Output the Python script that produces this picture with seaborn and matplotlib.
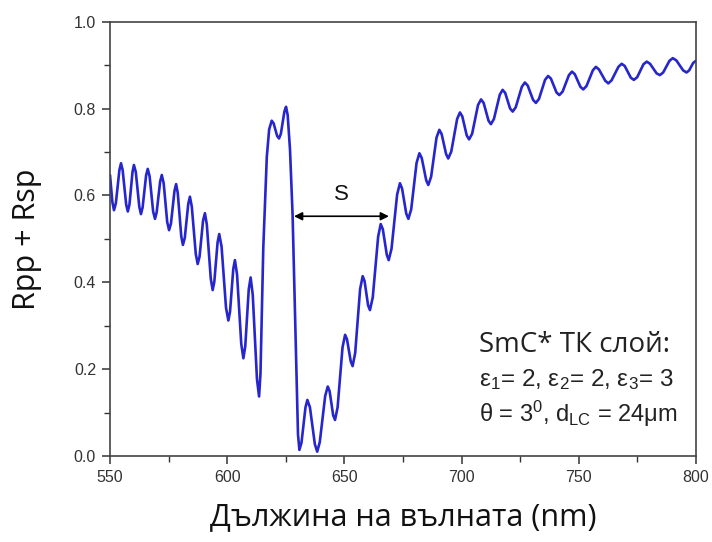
import matplotlib
matplotlib.use("Agg")
import matplotlib.pyplot as plt
from matplotlib.ticker import MultipleLocator
import seaborn as sns
import pandas as pd

# Curve: left fringes (550-613.6 nm)
wl_left = [550.0, 551.0, 551.7, 552.5, 554.0, 554.7, 555.4, 556.9, 557.6, 558.3,
           559.6, 560.2, 561.0, 562.5, 563.2, 563.9, 565.4, 566.1, 566.9, 568.4,
           569.2, 569.9, 571.4, 572.1, 572.9, 574.4, 575.2, 576.0, 577.5, 578.2,
           578.9, 580.4, 581.1, 581.9, 583.4, 584.1, 584.9, 586.6, 587.4, 588.2,
           589.7, 590.5, 591.3, 593.0, 593.8, 594.5, 595.9, 596.6, 597.6, 599.5,
           600.5, 601.2, 602.6, 603.3, 604.2, 606.0, 606.9, 607.7, 609.2, 610.0,
           610.9, 612.7, 613.6]
r_left = [0.647, 0.585, 0.566, 0.582, 0.658, 0.674, 0.658, 0.579, 0.563, 0.579,
          0.654, 0.670, 0.654, 0.574, 0.557, 0.572, 0.646, 0.661, 0.644, 0.563,
          0.546, 0.561, 0.632, 0.647, 0.628, 0.539, 0.520, 0.535, 0.610, 0.626,
          0.606, 0.506, 0.486, 0.502, 0.581, 0.597, 0.574, 0.465, 0.442, 0.459,
          0.542, 0.559, 0.533, 0.408, 0.382, 0.401, 0.492, 0.511, 0.482, 0.341,
          0.312, 0.332, 0.431, 0.451, 0.418, 0.258, 0.225, 0.252, 0.384, 0.411,
          0.371, 0.177, 0.137]

# Central reflection band (614-630 nm)
wl_band = [614.2, 615.4, 616.9, 617.9, 619.0, 619.8, 621.3, 622.1, 622.9, 624.4,
           625.1, 625.8, 626.8, 627.9, 629.6, 630.2]
r_band = [0.190, 0.480, 0.689, 0.752, 0.772, 0.766, 0.737, 0.731, 0.742, 0.793,
          0.804, 0.785, 0.705, 0.555, 0.175, 0.050]

# Right fringes (630.8-800 nm)
wl_right = [630.8, 631.7, 633.4, 634.2, 635.3, 637.4, 638.4, 639.5, 641.8, 642.9,
            643.7, 645.2, 646.0, 647.1, 649.2, 650.3, 651.1, 652.7, 653.5, 654.6,
            656.7, 657.8, 658.6, 660.1, 660.9, 662.1, 664.4, 665.5, 666.4, 668.1,
            668.9, 670.1, 672.5, 673.7, 674.6, 676.4, 677.3, 678.5, 680.8, 682.0,
            683.0, 684.9, 685.8, 687.0, 689.3, 690.5, 691.5, 693.4, 694.3, 695.6,
            698.1, 699.3, 700.3, 702.2, 703.2, 704.5, 707.0, 708.3, 709.4, 711.5,
            712.5, 713.8, 716.3, 717.5, 718.6, 720.7, 721.8, 723.1, 725.7, 727.0,
            728.2, 730.5, 731.7, 733.0, 735.6, 736.9, 738.1, 740.5, 741.7, 743.1,
            745.8, 747.1, 748.3, 750.7, 751.9, 753.3, 756.0, 757.3, 758.6, 761.3,
            762.6, 764.0, 766.9, 768.3, 769.6, 772.2, 773.5, 774.9, 777.6, 779.0,
            780.4, 783.2, 784.6, 786.0, 788.7, 790.1, 791.6, 794.5, 796.0, 797.1,
            798.8, 800.0]
r_right = [0.014, 0.031, 0.112, 0.129, 0.112, 0.027, 0.010, 0.032, 0.138, 0.160,
           0.149, 0.094, 0.083, 0.112, 0.250, 0.279, 0.269, 0.218, 0.207, 0.237,
           0.384, 0.414, 0.403, 0.347, 0.336, 0.365, 0.505, 0.534, 0.522, 0.463,
           0.451, 0.477, 0.602, 0.628, 0.616, 0.558, 0.546, 0.568, 0.675, 0.697,
           0.686, 0.635, 0.624, 0.643, 0.733, 0.751, 0.741, 0.695, 0.685, 0.701,
           0.776, 0.791, 0.782, 0.738, 0.729, 0.742, 0.808, 0.821, 0.813, 0.772,
           0.764, 0.776, 0.832, 0.843, 0.836, 0.800, 0.793, 0.803, 0.850, 0.860,
           0.853, 0.820, 0.813, 0.822, 0.866, 0.875, 0.869, 0.837, 0.831, 0.839,
           0.877, 0.885, 0.879, 0.850, 0.844, 0.852, 0.888, 0.896, 0.890, 0.864,
           0.858, 0.865, 0.896, 0.903, 0.898, 0.871, 0.866, 0.872, 0.902, 0.908,
           0.903, 0.881, 0.877, 0.883, 0.910, 0.916, 0.911, 0.888, 0.883, 0.888,
           0.905, 0.910]

x_ticks = [550, 600, 650, 700, 750, 800]
y_ticks = [0.0, 0.2, 0.4, 0.6, 0.8, 1.0]
x_label = "Дължина на вълната (nm)"
y_label = "Rpp + Rsp"
arrow_start = 628.5
arrow_end = 669.0
arrow_level = 0.552
arrow_text = "S"

df = pd.DataFrame({"wl": wl_left + wl_band + wl_right,
                   "R": r_left + r_band + r_right})

sns.set_style("ticks")
plt.rcParams["font.family"] = ["Liberation Sans", "DejaVu Sans"]
plt.rcParams["mathtext.fontset"] = "custom"
plt.rcParams["mathtext.rm"] = "Liberation Sans"
plt.rcParams["mathtext.it"] = "Liberation Sans:italic"
plt.rcParams["mathtext.default"] = "regular"

fig = plt.figure(figsize=(7.12, 5.42), dpi=100)
ax = fig.add_axes([0.1545, 0.1587, 0.823, 0.8013])

sns.lineplot(data=df, x="wl", y="R", ax=ax, color="#2626cc", linewidth=1.9,
             sort=False, estimator=None)
for ln in ax.get_lines():
    ln.set_solid_joinstyle("round")

ax.set_xlim(550, 800)
ax.set_ylim(0, 1.0)
ax.set_xticks(x_ticks)
ax.set_xticklabels([str(t) for t in x_ticks])
ax.set_yticks(y_ticks)
ax.set_yticklabels([f"{t:.1f}" for t in y_ticks])
ax.xaxis.set_minor_locator(MultipleLocator(25))
ax.yaxis.set_minor_locator(MultipleLocator(0.1))
ax.tick_params(which="major", direction="out", length=6, width=1.1,
               color="#333333", labelsize=11.5, labelcolor="#333333", pad=4)
ax.tick_params(which="minor", direction="out", length=4, width=1.0, color="#333333")
for s in ax.spines.values():
    s.set_visible(True)
    s.set_linewidth(1.2)
    s.set_color("#444444")

ax.set_xlabel(x_label, fontsize=22, family=["Open Sans", "DejaVu Sans"],
              color="#111111")
ax.set_ylabel(y_label, fontsize=22, family=["Open Sans", "DejaVu Sans"],
              color="#111111")
ax.xaxis.set_label_coords(0.5, -0.106)
ax.yaxis.set_label_coords(-0.116, 0.5)

ax.annotate("", xy=(arrow_start, arrow_level), xytext=(arrow_end, arrow_level),
            arrowprops=dict(arrowstyle="<|-|>", color="black", lw=1.2,
                            mutation_scale=12, shrinkA=0, shrinkB=0))
ax.text((arrow_start + arrow_end) / 2, arrow_level + 0.025, arrow_text,
        ha="center", va="bottom", fontsize=16, color="#111111")

ax.text(0.63, 0.240, "SmC* ТК слой:", transform=ax.transAxes, fontsize=20,
        family=["Open Sans", "DejaVu Sans"], color="#222222", va="baseline")
ax.text(0.63, 0.160, r"$\varepsilon_1$= 2, $\varepsilon_2$= 2, $\varepsilon_3$= 3",
        transform=ax.transAxes, fontsize=17.5, color="#222222", va="baseline")
ax.text(0.63, 0.079, r"$\theta$ = 3$^0$, d$_{LC}$ = 24$\mu$m",
        transform=ax.transAxes, fontsize=17, color="#222222", va="baseline")

fig.savefig("out.png", dpi=100)
